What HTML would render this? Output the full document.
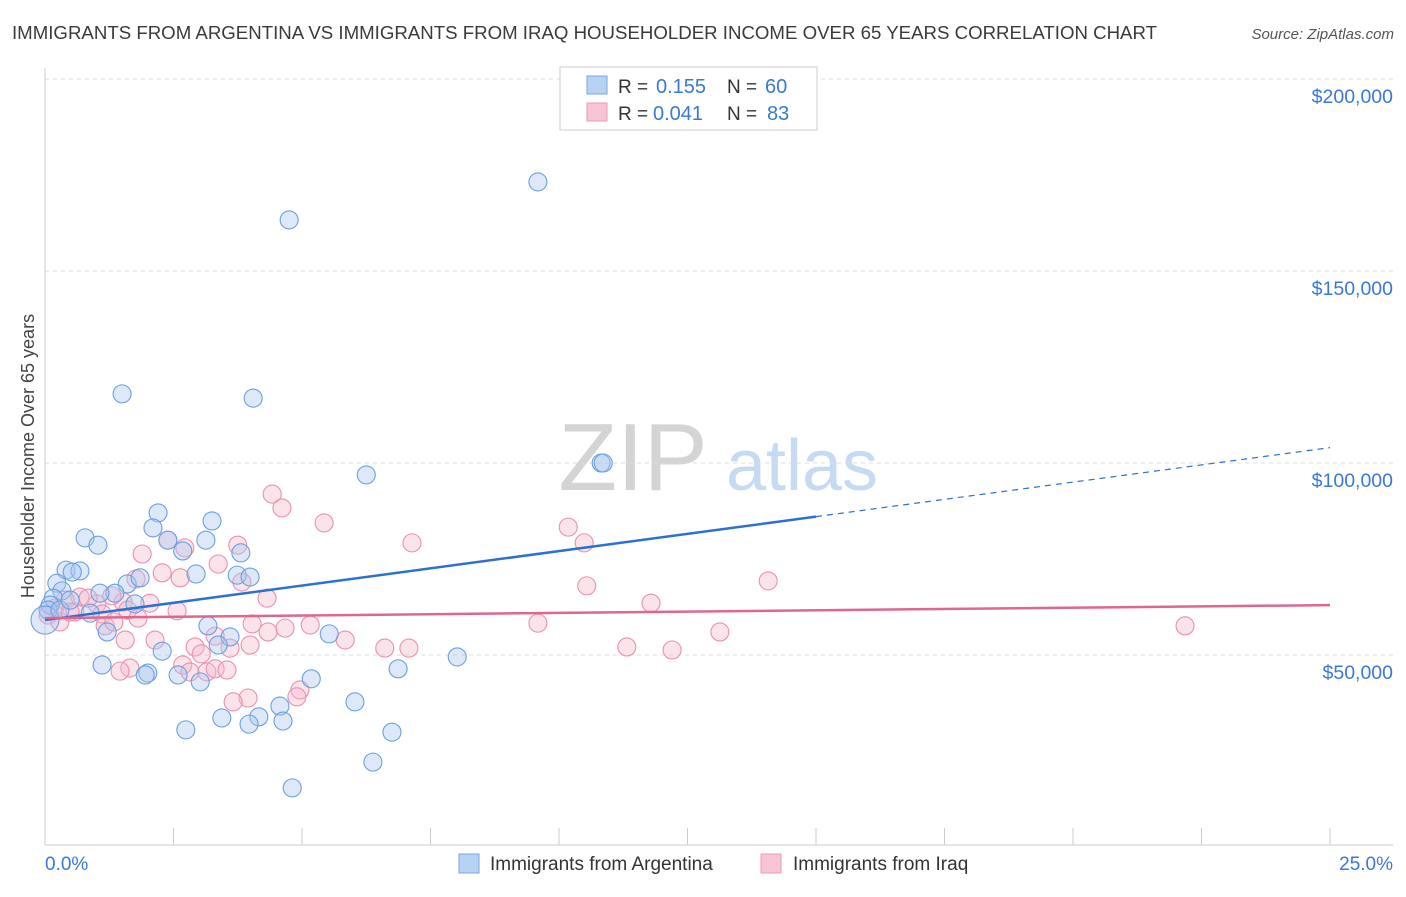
<!DOCTYPE html>
<html><head><meta charset="utf-8">
<style>
body{margin:0;background:#fff;font-family:"Liberation Sans",sans-serif;}
svg text{font-family:"Liberation Sans",sans-serif;}
</style></head>
<body>
<svg id="chart" width="1406" height="892" viewBox="0 0 1406 892" xmlns="http://www.w3.org/2000/svg">
<text x="12" y="39" font-size="18" fill="#3a3a3a" textLength="1145" lengthAdjust="spacingAndGlyphs">IMMIGRANTS FROM ARGENTINA VS IMMIGRANTS FROM IRAQ HOUSEHOLDER INCOME OVER 65 YEARS CORRELATION CHART</text>
<text x="1394" y="39" font-size="15" fill="#555" font-style="italic" text-anchor="end">Source: ZipAtlas.com</text>
<g>
<text x="633" y="490" font-size="96" fill="#d4d4d4" font-family="Liberation Serif, serif" text-anchor="middle">ZIP</text>
<text x="802" y="490" font-size="72" fill="#c6dbf3" text-anchor="middle">atlas</text>
</g>
<g id="grid"></g>
<g id="axes"></g>
<g id="marks"></g>
<text transform="translate(34,456) rotate(-90)" font-size="18" fill="#444" text-anchor="middle">Householder Income Over 65 years</text>
<g>
<rect x="560" y="67" width="257" height="63" fill="#fff" stroke="#ccc"/>
<rect x="587" y="76" width="20" height="18" fill="#b8d2f4" stroke="#7aa6e0"/>
<rect x="587" y="103" width="20" height="18" fill="#f8c4d4" stroke="#eb9ab6"/>
<text x="618" y="93" font-size="19" fill="#333">R =</text>
<text x="656" y="93" font-size="20" fill="#3a78d6">0.155</text>
<text x="727" y="93" font-size="19" fill="#333">N =</text>
<text x="765" y="93" font-size="20" fill="#3a78d6">60</text>
<text x="618" y="120" font-size="19" fill="#333">R =</text>
<text x="653" y="120" font-size="20" fill="#3a78d6">0.041</text>
<text x="727" y="120" font-size="19" fill="#333">N =</text>
<text x="767" y="120" font-size="20" fill="#3a78d6">83</text>
</g>
<g>
<rect x="459" y="854" width="20" height="19" fill="#b8d2f4" stroke="#7aa6e0"/>
<text x="490" y="870" font-size="19" fill="#333">Immigrants from Argentina</text>
<rect x="761" y="854" width="20" height="19" fill="#f8c4d4" stroke="#eb9ab6"/>
<text x="793" y="870" font-size="19" fill="#333">Immigrants from Iraq</text>
</g>
</svg>
<script>
const blueX=[9.59,4.75,1.50,4.05,6.25,10.82,10.86,2.20,3.25,2.10,0.78,1.03,3.13,2.68,3.81,2.39,0.41,0.68,0.53,0.23,1.60,1.85,2.94,3.74,3.99,0.33,1.36,1.07,0.16,0.10,0.06,0.88,1.75,1.21,3.17,3.60,3.37,5.53,2.28,1.11,2.00,1.95,2.59,3.02,5.18,6.87,8.02,6.03,4.57,3.44,4.16,4.63,3.97,2.74,6.75,6.38,4.81,0.0,0.29,0.49];
const blueY=[173.2,163.3,118.0,116.9,96.9,100.0,100.0,87.0,84.9,83.1,80.5,78.6,79.9,77.1,76.6,79.9,72.1,71.9,71.6,68.7,68.5,70.1,71.1,70.8,70.3,66.7,66.1,66.1,64.8,63.0,61.7,60.9,63.3,56.0,57.6,54.7,52.6,55.5,51.0,47.4,45.3,44.8,44.8,43.0,43.8,46.4,49.5,37.8,36.7,33.6,33.9,32.8,32.0,30.5,29.9,22.1,15.4,59.1,61.7,64.3];
const pinkX=[4.42,4.61,5.43,10.18,10.49,7.14,3.75,2.72,1.89,2.39,3.37,2.28,2.63,1.77,3.83,10.54,14.07,4.32,2.04,2.57,1.52,1.30,1.01,0.68,0.39,0.19,0.58,1.11,1.61,1.81,4.03,5.16,4.67,4.34,3.31,3.99,3.60,5.84,9.59,11.79,13.13,11.32,12.20,6.61,7.08,2.92,3.04,2.68,2.82,3.15,3.31,3.54,1.65,1.46,2.14,1.17,4.96,4.90,3.95,3.66,22.18,0.06,0.29,0.49,0.84,1.34,1.56];
const pinkY=[91.9,88.3,84.4,83.3,79.2,79.2,78.6,77.9,76.3,79.9,73.7,71.4,70.1,69.8,69.0,68.0,69.3,64.8,63.5,61.5,63.8,65.4,63.3,65.1,64.3,62.2,61.2,60.7,61.7,59.6,58.1,57.8,57.0,56.0,54.9,52.6,51.8,53.9,58.3,63.5,56.0,52.1,51.3,51.8,51.8,52.1,50.3,47.4,45.6,45.6,46.4,46.1,46.6,45.8,53.9,57.6,40.9,39.1,38.8,37.8,57.6,60.4,58.6,61.2,64.8,58.6,53.9];
const yTicks=[50,100,150,200];
const yTickLabels=["$50,000","$100,000","$150,000","$200,000"];
const blueTrend=[59.1,104.0]; // at x=0 and x=25
const pinkTrend=[59.6,63.0];
const NS="http://www.w3.org/2000/svg";
const X=v=>45+v*(1285/25);
const Y=v=>655-(v-50)*192/50;
function mk(p,tag,a){const e=document.createElementNS(NS,tag);for(const k in a)e.setAttribute(k,a[k]);p.appendChild(e);return e;}
const grid=document.getElementById('grid'),axes=document.getElementById('axes'),marks=document.getElementById('marks');
yTicks.forEach((t,i)=>{
  const l=mk(grid,'line',{x1:45,x2:1393,y1:Y(t),y2:Y(t),stroke:'#ddd','stroke-dasharray':'4,4'});
  
  
  const tx=mk(axes,'text',{x:1393,y:Y(t)+24,'font-size':19.5,fill:'#3a78d6','text-anchor':'end'});
  tx.textContent=yTickLabels[i];
  
  
});
const ya=mk(axes,'line',{x1:45,x2:45,y1:68,y2:845,stroke:'#ccc'});


const xa=mk(axes,'line',{x1:45,x2:1393,y1:845,y2:845,stroke:'#ccc'});


for(let i=0;i<=10;i++){
  const tk=mk(axes,'line',{x1:X(i*2.5),x2:X(i*2.5),y1:828,y2:845,stroke:'#ccc'});
  
  
}
const xl0=mk(axes,'text',{x:45,y:870,'font-size':19,fill:'#3a78d6'});xl0.textContent='0.0%';


const xl1=mk(axes,'text',{x:1393,y:870,'font-size':19,fill:'#3a78d6','text-anchor':'end'});xl1.textContent='25.0%';


function pts(xs,ys,fill,stroke,name){
  xs.forEach((x,i)=>{
    const r=(x===0)?14:9;
    const c=mk(marks,'circle',{cx:X(x),cy:Y(ys[i]),r:r,fill:fill,'fill-opacity':0.4,stroke:stroke,'stroke-width':1.1});
    
    
  });
}
pts(pinkX,pinkY,'#f6b8cb','#e990af','point-iraq');
pts(blueX,blueY,'#a9c8f0','#6c9fe0','point-argentina');
const bAt=x=>blueTrend[0]+(blueTrend[1]-blueTrend[0])*x/25;
const b1=mk(marks,'line',{x1:X(0),y1:Y(bAt(0)),x2:X(15),y2:Y(bAt(15)),stroke:'#2d6fd3','stroke-width':2.5});


const b2=mk(marks,'line',{x1:X(15),y1:Y(bAt(15)),x2:X(25),y2:Y(bAt(25)),stroke:'#2d6fd3','stroke-width':1.2,'stroke-dasharray':'6,5'});


const p1=mk(marks,'line',{x1:X(0),y1:Y(pinkTrend[0]),x2:X(25),y2:Y(pinkTrend[1]),stroke:'#e0668f','stroke-width':2.5});


</script>
</body></html>
